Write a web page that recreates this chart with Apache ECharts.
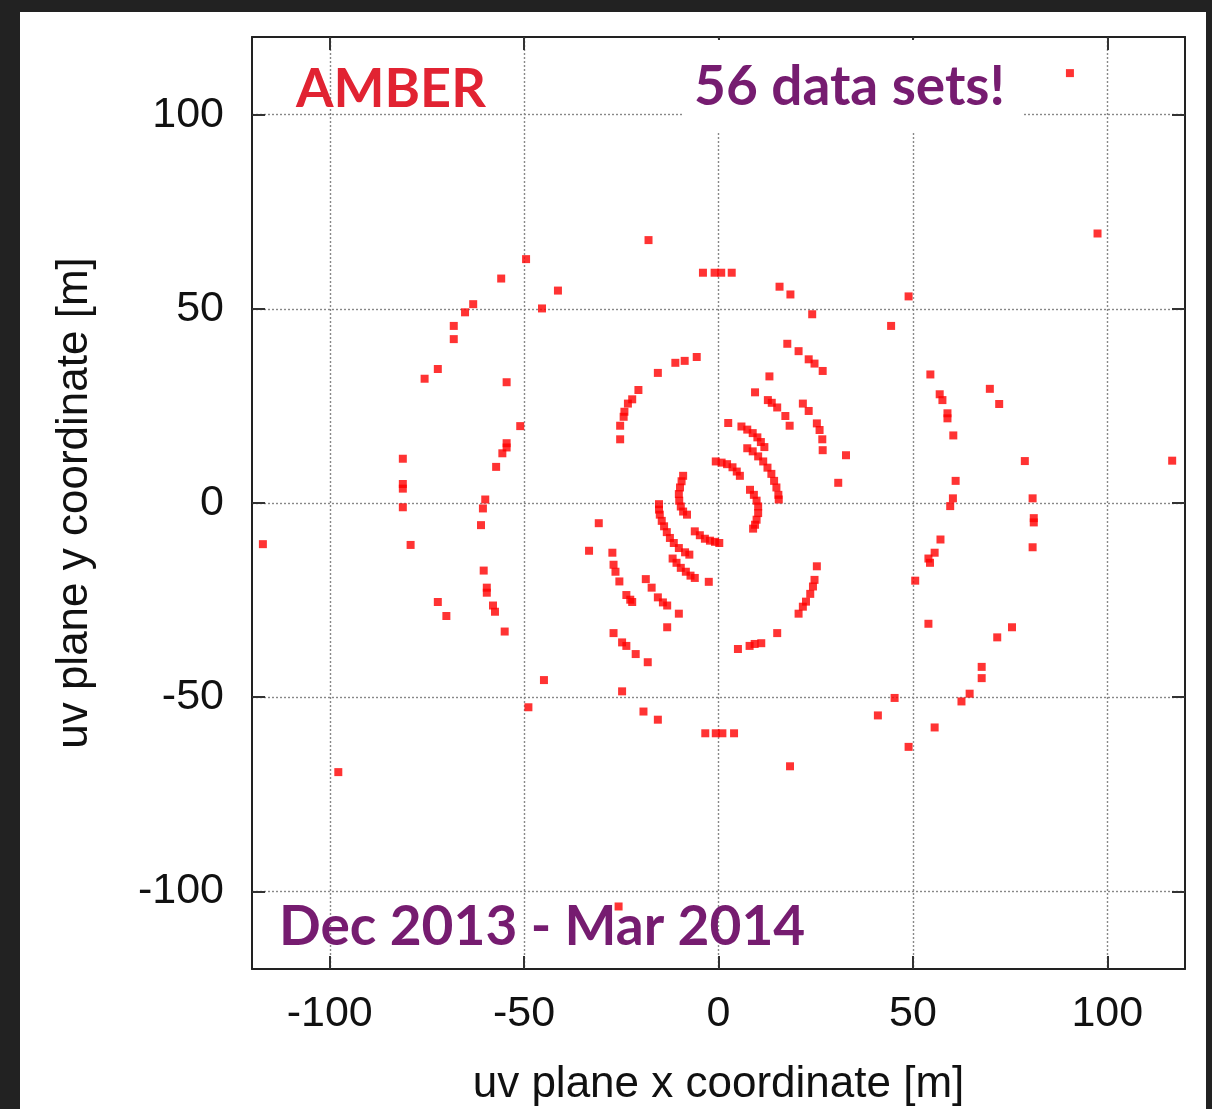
<!DOCTYPE html>
<html>
<head>
<meta charset="utf-8">
<title>AMBER uv coverage</title>
<script src="https://cdn.jsdelivr.net/npm/echarts@6/dist/echarts.min.js"></script>
<style>
  html, body { margin: 0; padding: 0; background: #222; width: 1212px; height: 1109px; overflow: hidden; }
  #panel { position: absolute; left: 20px; top: 12px; width: 1186px; height: 1097px; background: #fff; }
  #chart { position: absolute; left: 0; top: 0; width: 1212px; height: 1109px; }
</style>
</head>
<body>
<div id="panel"></div>
<div id="chart"></div>
<script>
// uv-plane sampling points [u, v] in metres, grouped by projected baseline length
const innerArcs = [
  [5.9, 19.7], [7.4, 18.9], [8.8, 18.0], [10.0, 16.9], [10.9, 15.7], [11.8, 14.4],
  [7.4, 14.1], [8.8, 13.3], [10.2, 12.0], [11.5, 10.7], [12.6, 9.1], [13.6, 7.5], [14.3, 5.7], [14.9, 4.0], [15.4, 2.1], [15.5, 0.9],
  [-0.7, 10.7], [0.8, 10.4], [2.2, 10.0], [3.6, 9.2], [4.7, 8.1], [5.5, 7.0],
  [8.1, 3.4], [9.1, 2.1], [9.8, 0.6], [10.2, -0.9], [10.2, -2.6], [9.8, -4.3], [9.4, -5.6], [8.9, -6.6],
  [-9.1, 7.0], [-9.5, 5.6], [-9.9, 4.0], [-10.2, 2.3], [-10.1, 0.6], [-9.7, -0.9], [-9.1, -2.2], [-8.1, -3.0],
  [-6.1, -7.3], [-4.8, -8.3], [-3.5, -9.2], [-2.2, -9.7], [-0.9, -10.0], [0.2, -10.3],
  [-15.3, -0.3], [-15.3, -1.7], [-15.1, -3.0], [-14.6, -4.6], [-14.0, -6.0], [-13.3, -7.5], [-12.5, -9.0], [-11.5, -10.3], [-10.2, -11.6], [-8.6, -12.7], [-7.5, -13.3],
  [-11.8, -14.3], [-10.8, -15.4], [-9.7, -16.7], [-8.4, -17.7], [-7.2, -18.7], [-6.1, -19.3],
  [2.5, 20.6], [-2.5, -20.3]
];

const middleArcs = [
  [17.7, 41.0], [20.6, 39.1], [23.2, 37.0], [24.7, 35.9], [26.8, 34.0], [13.1, 32.6], [9.4, 28.5],
  [12.7, 26.5], [13.7, 25.8], [15.1, 24.6], [17.2, 22.4], [18.3, 19.9],
  [21.7, 25.6], [23.2, 23.7], [25.3, 20.5], [26.0, 18.8], [26.7, 16.4], [26.8, 13.6], [30.8, 5.2], [32.8, 12.3],
  [-5.6, 37.6], [-8.7, 36.6], [-11.1, 36.1], [-15.6, 33.5], [-20.6, 29.1], [-22.2, 26.7], [-23.3, 25.6],
  [-24.2, 23.5], [-24.4, 22.2], [-25.3, 19.9], [-25.3, 16.4],
  [-27.3, -12.8], [-27.0, -15.9], [-26.5, -17.7], [-25.5, -20.2], [-23.7, -23.7], [-22.7, -24.9], [-22.2, -25.5],
  [-18.7, -19.6], [-17.2, -21.8], [-15.6, -24.3], [-14.3, -25.6], [-13.2, -26.4], [-10.2, -28.5], [-13.2, -32.0],
  [-27.0, -33.5], [-24.8, -35.9], [-23.7, -36.8], [-21.3, -38.9], [-18.2, -41.0], [-30.8, -5.2], [-33.3, -12.3],
  [25.3, -16.3], [24.7, -19.8], [24.3, -21.5], [23.6, -23.4], [22.5, -25.4], [21.7, -26.7], [20.6, -28.5],
  [15.1, -33.5], [11.0, -36.1], [9.3, -36.3], [8.0, -36.8], [5.0, -37.6]
];

const outerRing = [
  [-49.5, 62.8], [-55.9, 57.8], [-41.3, 54.7], [-45.4, 50.1], [-63.1, 51.2], [-65.2, 49.1], [-68.1, 45.6], [-68.1, 42.2],
  [-72.2, 34.5], [-75.6, 32.0], [-54.5, 31.1], [-51.0, 19.8], [-54.5, 15.4], [-54.5, 14.3], [-55.6, 12.8], [-57.2, 9.3],
  [-81.2, 11.4], [-81.2, 4.9], [-81.2, 3.7], [-60.0, 0.9], [-81.2, -1.1], [-79.2, -10.8], [-60.6, -1.4], [-61.1, -5.7],
  [-60.4, -17.4], [-59.6, -21.8], [-59.6, -23.1], [-58.0, -26.4], [-57.5, -28.0], [-55.0, -33.1], [-72.2, -25.5], [-70.0, -29.1],
  [-44.9, -45.6], [-48.9, -52.6],
  [-18.0, 67.7], [-4.0, 59.3], [-1.0, 59.3], [0.7, 59.3], [3.4, 59.3], [15.7, 55.7], [18.5, 53.7], [24.1, 48.6],
  [-24.8, -48.5], [-19.3, -53.7], [-15.6, -55.8], [-3.4, -59.3], [-0.7, -59.3], [1.0, -59.3], [4.0, -59.3], [18.4, -67.8],
  [48.9, 53.2], [44.4, 45.6], [54.5, 33.1], [56.9, 28.0], [57.6, 26.5], [58.9, 23.1], [58.9, 21.8], [60.4, 17.4],
  [69.8, 29.4], [72.2, 25.5], [78.8, 10.8], [61.0, 5.7], [60.3, 1.2], [80.8, 1.2],
  [59.6, -0.8], [57.1, -9.4], [55.6, -12.8], [54.0, -14.3], [54.4, -15.4], [50.6, -20.0], [54.0, -31.1],
  [81.1, -3.9], [81.1, -5.0], [80.8, -11.4], [75.5, -32.0], [71.7, -34.6], [67.7, -42.2], [67.7, -45.1],
  [64.6, -49.1], [62.5, -51.1], [45.3, -50.2], [41.0, -54.7], [55.6, -57.8], [48.9, -62.8]
];

const longBaselines = [
  [-117.2, -10.6], [116.7, 10.9], [-97.8, -69.3], [97.5, 69.4], [90.4, 110.7], [-25.7, -103.9]
];

const tickValues = [-100, -50, 0, 50, 100];
const axisRange = [-120, 120];

const frameColor = '#222';
const axisFont = 'Liberation Sans, Arial, sans-serif';

function makeAxis(pos, isMain, extra) {
  return Object.assign({
    type: 'value',
    position: pos,
    min: axisRange[0],
    max: axisRange[1],
    axisLine: { show: true, onZero: false, lineStyle: { color: frameColor, width: 2 } },
    axisTick: { show: true, inside: true, length: 13, customValues: tickValues, lineStyle: { color: '#333', width: 2 } },
    axisLabel: isMain ? {
      show: true, customValues: tickValues, color: '#111', fontSize: 43, fontFamily: axisFont
    } : { show: false },
    splitLine: isMain ? {
      show: true, lineStyle: { color: '#888', width: 1.4, type: [2, 2] }
    } : { show: false }
  }, extra);
}

function scatterSeries(name, data) {
  return {
    name: name,
    type: 'scatter',
    xAxisIndex: 0,
    yAxisIndex: 0,
    data: data,
    symbol: 'rect',
    symbolSize: 8,
    itemStyle: { color: '#ff0000' },
    silent: true,
    z: 3
  };
}

const chart = echarts.init(document.getElementById('chart'), null, { renderer: 'canvas' });

chart.setOption({
  backgroundColor: 'transparent',
  animation: false,
  grid: { left: 252, top: 37, width: 933, height: 932, containLabel: false, outerBoundsMode: 'none' },
  xAxis: [
    makeAxis('bottom', true, {
      name: 'uv plane x coordinate [m]',
      nameLocation: 'middle',
      nameGap: 94,
      nameTextStyle: { color: '#111', fontSize: 44, fontFamily: axisFont },
      axisLabel: { show: true, customValues: tickValues, color: '#111', fontSize: 43, fontFamily: axisFont, margin: 24 }
    }),
    makeAxis('top', false, {})
  ],
  yAxis: [
    makeAxis('left', true, {
      name: 'uv plane y coordinate [m]',
      nameLocation: 'middle',
      nameGap: 155,
      nameRotate: 90,
      nameTextStyle: { color: '#111', fontSize: 44, fontFamily: axisFont },
      axisLabel: { show: true, customValues: tickValues, color: '#111', fontSize: 43, fontFamily: axisFont, margin: 28 }
    }),
    makeAxis('right', false, {})
  ],
  series: [
    scatterSeries('inner', innerArcs),
    scatterSeries('middle', middleArcs),
    scatterSeries('outer', outerRing),
    scatterSeries('long', longBaselines)
  ],
  graphic: [
    {
      type: 'rect', z: 50, silent: true,
      shape: { x: 683, y: 40, width: 341, height: 93 },
      style: { fill: '#ffffff' }
    },
    {
      type: 'text', z: 60, silent: true, x: 296, y: 90,
      style: { text: 'AMBER', fill: '#E12332', font: 'bold 54px Lato, sans-serif', align: 'left', verticalAlign: 'middle' }
    },
    {
      type: 'text', z: 60, silent: true, x: 694, y: 87,
      style: { text: '56 data sets!', fill: '#761C70', font: 'bold 55px Lato, sans-serif', align: 'left', verticalAlign: 'middle' }
    },
    {
      type: 'text', z: 60, silent: true, x: 279, y: 927,
      style: { text: 'Dec 2013 - Mar 2014', fill: '#761C70', font: 'bold 55px Lato, sans-serif', align: 'left', verticalAlign: 'middle' }
    }
  ]
});
</script>
</body>
</html>
